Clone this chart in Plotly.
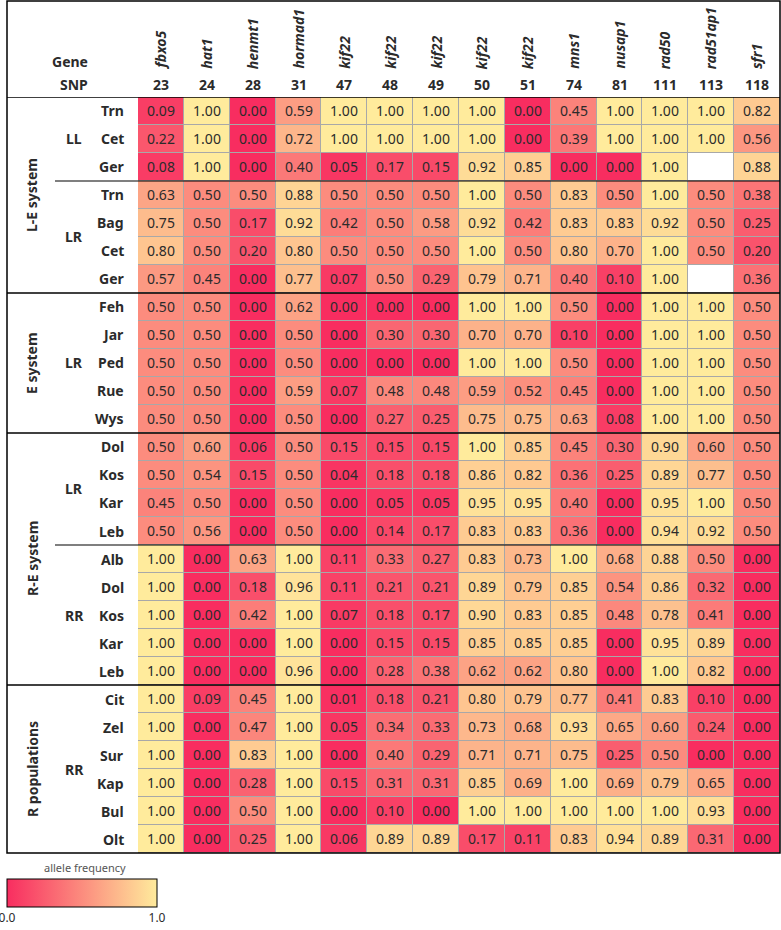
import plotly.graph_objects as go

W, H = 781, 930

genes = ["fbxo5", "hat1", "henmt1", "hormad1", "kif22", "kif22", "kif22", "kif22",
         "kif22", "mns1", "nusap1", "rad50", "rad51ap1", "sfr1"]
snps = ["23", "24", "28", "31", "47", "48", "49", "50", "51", "74", "81", "111", "113", "118"]

# L-E system
le_ll_pops = ["Trn", "Cet", "Ger"]
le_ll = [
    [0.09, 1.00, 0.00, 0.59, 1.00, 1.00, 1.00, 1.00, 0.00, 0.45, 1.00, 1.00, 1.00, 0.82],
    [0.22, 1.00, 0.00, 0.72, 1.00, 1.00, 1.00, 1.00, 0.00, 0.39, 1.00, 1.00, 1.00, 0.56],
    [0.08, 1.00, 0.00, 0.40, 0.05, 0.17, 0.15, 0.92, 0.85, 0.00, 0.00, 1.00, None, 0.88],
]
le_lr_pops = ["Trn", "Bag", "Cet", "Ger"]
le_lr = [
    [0.63, 0.50, 0.50, 0.88, 0.50, 0.50, 0.50, 1.00, 0.50, 0.83, 0.50, 1.00, 0.50, 0.38],
    [0.75, 0.50, 0.17, 0.92, 0.42, 0.50, 0.58, 0.92, 0.42, 0.83, 0.83, 0.92, 0.50, 0.25],
    [0.80, 0.50, 0.20, 0.80, 0.50, 0.50, 0.50, 1.00, 0.50, 0.80, 0.70, 1.00, 0.50, 0.20],
    [0.57, 0.45, 0.00, 0.77, 0.07, 0.50, 0.29, 0.79, 0.71, 0.40, 0.10, 1.00, None, 0.36],
]
# E system
e_lr_pops = ["Feh", "Jar", "Ped", "Rue", "Wys"]
e_lr = [
    [0.50, 0.50, 0.00, 0.62, 0.00, 0.00, 0.00, 1.00, 1.00, 0.50, 0.00, 1.00, 1.00, 0.50],
    [0.50, 0.50, 0.00, 0.50, 0.00, 0.30, 0.30, 0.70, 0.70, 0.10, 0.00, 1.00, 1.00, 0.50],
    [0.50, 0.50, 0.00, 0.50, 0.00, 0.00, 0.00, 1.00, 1.00, 0.50, 0.00, 1.00, 1.00, 0.50],
    [0.50, 0.50, 0.00, 0.59, 0.07, 0.48, 0.48, 0.59, 0.52, 0.45, 0.00, 1.00, 1.00, 0.50],
    [0.50, 0.50, 0.00, 0.50, 0.00, 0.27, 0.25, 0.75, 0.75, 0.63, 0.08, 1.00, 1.00, 0.50],
]
# R-E system
re_lr_pops = ["Dol", "Kos", "Kar", "Leb"]
re_lr = [
    [0.50, 0.60, 0.06, 0.50, 0.15, 0.15, 0.15, 1.00, 0.85, 0.45, 0.30, 0.90, 0.60, 0.50],
    [0.50, 0.54, 0.15, 0.50, 0.04, 0.18, 0.18, 0.86, 0.82, 0.36, 0.25, 0.89, 0.77, 0.50],
    [0.45, 0.50, 0.00, 0.50, 0.00, 0.05, 0.05, 0.95, 0.95, 0.40, 0.00, 0.95, 1.00, 0.50],
    [0.50, 0.56, 0.00, 0.50, 0.00, 0.14, 0.17, 0.83, 0.83, 0.36, 0.00, 0.94, 0.92, 0.50],
]
re_rr_pops = ["Alb", "Dol", "Kos", "Kar", "Leb"]
re_rr = [
    [1.00, 0.00, 0.63, 1.00, 0.11, 0.33, 0.27, 0.83, 0.73, 1.00, 0.68, 0.88, 0.50, 0.00],
    [1.00, 0.00, 0.18, 0.96, 0.11, 0.21, 0.21, 0.89, 0.79, 0.85, 0.54, 0.86, 0.32, 0.00],
    [1.00, 0.00, 0.42, 1.00, 0.07, 0.18, 0.17, 0.90, 0.83, 0.85, 0.48, 0.78, 0.41, 0.00],
    [1.00, 0.00, 0.00, 1.00, 0.00, 0.15, 0.15, 0.85, 0.85, 0.85, 0.00, 0.95, 0.89, 0.00],
    [1.00, 0.00, 0.00, 0.96, 0.00, 0.28, 0.38, 0.62, 0.62, 0.80, 0.00, 1.00, 0.82, 0.00],
]
# R populations
r_rr_pops = ["Cit", "Zel", "Sur", "Kap", "Bul", "Olt"]
r_rr = [
    [1.00, 0.09, 0.45, 1.00, 0.01, 0.18, 0.21, 0.80, 0.79, 0.77, 0.41, 0.83, 0.10, 0.00],
    [1.00, 0.00, 0.47, 1.00, 0.05, 0.34, 0.33, 0.73, 0.68, 0.93, 0.65, 0.60, 0.24, 0.00],
    [1.00, 0.00, 0.83, 1.00, 0.00, 0.40, 0.29, 0.71, 0.71, 0.75, 0.25, 0.50, 0.00, 0.00],
    [1.00, 0.00, 0.28, 1.00, 0.15, 0.31, 0.31, 0.85, 0.69, 1.00, 0.69, 0.79, 0.65, 0.00],
    [1.00, 0.00, 0.50, 1.00, 0.00, 0.10, 0.00, 1.00, 1.00, 1.00, 1.00, 1.00, 0.93, 0.00],
    [1.00, 0.00, 0.25, 1.00, 0.06, 0.89, 0.89, 0.17, 0.11, 0.83, 0.94, 0.89, 0.31, 0.00],
]

systems = ["L-E system", "E system", "R-E system", "R populations"]
blocks = [  # (system index, subgroup label, pops, values)
    (0, "LL", le_ll_pops, le_ll),
    (0, "LR", le_lr_pops, le_lr),
    (1, "LR", e_lr_pops, e_lr),
    (2, "LR", re_lr_pops, re_lr),
    (2, "RR", re_rr_pops, re_rr),
    (3, "RR", r_rr_pops, r_rr),
]

z, text, miss, pops = [], [], [], []
sub_spans, sys_spans = [], {}
for si, sub, p, vals in blocks:
    start = len(z)
    for name, row in zip(p, vals):
        z.append(row)
        text.append(["" if v is None else f"{v:.2f}" for v in row])
        miss.append([1 if v is None else None for v in row])
        pops.append(name)
    end = len(z) - 1
    sub_spans.append((sub, start, end))
    a, b = sys_spans.get(si, (start, end))
    sys_spans[si] = (min(a, start), max(b, end))

nrow, ncol = len(z), len(genes)
xs = list(range(ncol))
ys = list(range(nrow))

def px(x):
    return x / W

def py(y):
    return 1 - y / H

FONT = "Noto Sans"
TXT = "#2b2b2b"
scale = [[0, "rgb(248,45,96)"], [1, "rgb(255,235,156)"]]

fig = go.Figure()
fig.add_trace(go.Heatmap(
    z=z, x=xs, y=ys, text=text, texttemplate="%{text}",
    textfont=dict(family=FONT, size=14, color=TXT),
    colorscale=scale, zmin=0, zmax=1, xgap=1, ygap=1, hoverinfo="skip",
    colorbar=dict(
        orientation="h", lenmode="pixels", len=150, thickness=28,
        x=px(82), xanchor="center", y=py(879), yanchor="top",
        outlinecolor="black", outlinewidth=1,
        tickvals=[0, 1], ticktext=["0.0", "1.0"], ticks="",
        ticklabeloverflow="allow",
        tickfont=dict(family=FONT, size=12, color=TXT),
        xpad=0, ypad=0,
    ),
))
fig.add_trace(go.Heatmap(
    z=miss, x=xs, y=ys, colorscale=[[0, "white"], [1, "white"]],
    showscale=False, xgap=1, ygap=1, hoverinfo="skip",
))

ann = []
# header
ann.append(dict(x=px(90), y=py(62), xref="paper", yref="paper", text="<b>Gene</b>",
                showarrow=False, xanchor="right", yanchor="middle",
                font=dict(family=FONT, size=14, color=TXT)))
ann.append(dict(x=px(90), y=py(84), xref="paper", yref="paper", text="<b>SNP</b>",
                showarrow=False, xanchor="right", yanchor="middle",
                font=dict(family=FONT, size=14, color=TXT)))
for i, (g, s) in enumerate(zip(genes, snps)):
    ann.append(dict(x=i, y=py(71), xref="x", yref="paper", text=f"<b><i>{g}</i></b>",
                    showarrow=False, textangle=-90, xanchor="center", yanchor="bottom",
                    font=dict(family=FONT, size=14, color=TXT)))
    ann.append(dict(x=i, y=py(84), xref="x", yref="paper", text=f"<b>{s}</b>",
                    showarrow=False, xanchor="center", yanchor="middle",
                    font=dict(family=FONT, size=14, color=TXT)))
# row labels
for r, name in enumerate(pops):
    ann.append(dict(x=px(126), y=r, xref="paper", yref="y", text=f"<b>{name}</b>",
                    showarrow=False, xanchor="right", yanchor="middle",
                    font=dict(family=FONT, size=14, color=TXT)))
for sub, a, b in sub_spans:
    ann.append(dict(x=px(74), y=(a + b) / 2, xref="paper", yref="y", text=f"<b>{sub}</b>",
                    showarrow=False, xanchor="center", yanchor="middle",
                    font=dict(family=FONT, size=14, color=TXT)))
for si, (a, b) in sys_spans.items():
    ann.append(dict(x=px(32), y=(a + b) / 2, xref="paper", yref="y", text=f"<b>{systems[si]}</b>",
                    showarrow=False, textangle=-90, xanchor="center", yanchor="middle",
                    font=dict(family=FONT, size=14, color=TXT)))
# colorbar title
ann.append(dict(x=px(85), y=py(867), xref="paper", yref="paper", text="allele frequency",
                showarrow=False, xanchor="center", yanchor="middle",
                font=dict(family=FONT, size=11, color="#555555")))

shapes = []
# outer border
shapes.append(dict(type="rect", xref="paper", yref="paper", x0=px(7), x1=px(780),
                   y0=py(853), y1=py(1), line=dict(color="black", width=1.5)))
# header bottom and system separators
for si in sorted(sys_spans):
    a, b = sys_spans[si]
    shapes.append(dict(type="line", xref="paper", yref="y", x0=px(7), x1=px(780),
                       y0=a - 0.5, y1=a - 0.5, line=dict(color="black", width=1.5)))
# subgroup separators within a system
prev = None
for (si, sub, p, vals), (s, a, b) in zip(blocks, sub_spans):
    if prev == si:
        shapes.append(dict(type="line", xref="paper", yref="y", x0=px(55), x1=px(780),
                           y0=a - 0.5, y1=a - 0.5, line=dict(color="black", width=1.2)))
    prev = si

fig.update_layout(
    width=W, height=H, margin=dict(l=0, r=0, t=0, b=0),
    paper_bgcolor="white", plot_bgcolor="#a8a8a8",
    xaxis=dict(domain=[px(138), px(780)], range=[-0.5, ncol - 0.5], visible=False),
    yaxis=dict(domain=[py(853), py(97)], range=[nrow - 0.5, -0.5], visible=False),
    annotations=ann, shapes=shapes, showlegend=False,
)
fig.write_html("out.html")
